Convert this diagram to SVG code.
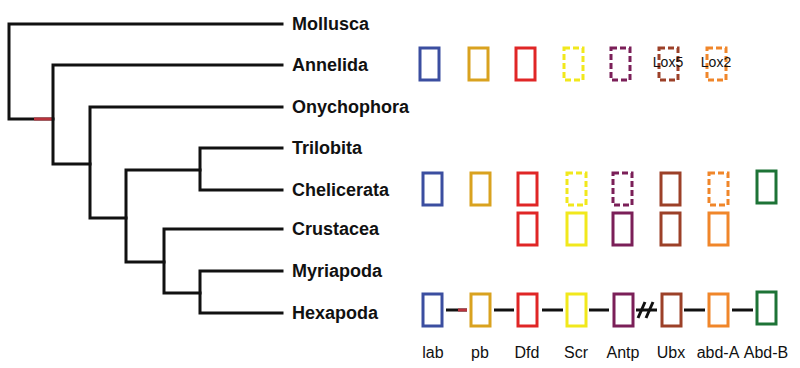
<svg xmlns="http://www.w3.org/2000/svg" width="800" height="368" viewBox="0 0 800 368">
<style>
.tree{fill:none;stroke:#111;stroke-width:3;stroke-linecap:square}
.taxon{font-family:"Liberation Sans",Arial,sans-serif;font-weight:bold;font-size:18px;fill:#111}
.gene{font-family:"Liberation Sans",Arial,sans-serif;font-size:16px;fill:#111;text-anchor:middle}
.lox{font-family:"Liberation Sans",Arial,sans-serif;font-size:14px;fill:#111;text-anchor:middle}
.box{fill:none;stroke-width:3}
.dash{stroke-dasharray:6 3}
.link{stroke:#111;stroke-width:3}
.lab{stroke:#3b4ea0}.pb{stroke:#d9a21f}.dfd{stroke:#e02626}.scr{stroke:#f1e81c}
.antp{stroke:#7b1f58}.ubx{stroke:#9c4028}.abda{stroke:#f0862a}.abdb{stroke:#1d7336}
</style>
<g id="connectors">
<path class="tree" d="M282,24 H9 V119 H53"/>
<path d="M34,119 H52" stroke="#b8323c" stroke-width="3"/>
<path class="tree" d="M282,65 H53 V164 H90"/>
<path class="tree" d="M282,107 H90 V218 H126"/>
<path class="tree" d="M282,148 H200 V190 H282"/>
<path class="tree" d="M200,170 H126 V262 H164"/>
<path class="tree" d="M282,229 H164 V293 H200"/>
<path class="tree" d="M282,271 H200 V313 H282"/>
<line class="link" x1="446" y1="310" x2="467" y2="310"/>
<line x1="458" y1="310" x2="467" y2="310" stroke="#b8323c" stroke-width="3"/>
<line class="link" x1="494" y1="310" x2="514" y2="310"/>
<line class="link" x1="542" y1="310" x2="563" y2="310"/>
<line class="link" x1="589" y1="310" x2="609" y2="310"/>
<line class="link" x1="636" y1="310" x2="657" y2="310"/>
<line class="link" x1="638" y1="318" x2="645" y2="302"/>
<line class="link" x1="646" y1="318" x2="653" y2="302"/>
<line class="link" x1="684" y1="310" x2="705" y2="310"/>
<line class="link" x1="732" y1="310" x2="753" y2="310"/>
</g>
<g id="taxa">
<text class="taxon" x="292" y="30">Mollusca</text>
<text class="taxon" x="292" y="71">Annelida</text>
<text class="taxon" x="292" y="113">Onychophora</text>
<text class="taxon" x="292" y="154">Trilobita</text>
<text class="taxon" x="292" y="196">Chelicerata</text>
<text class="taxon" x="292" y="235">Crustacea</text>
<text class="taxon" x="292" y="277">Myriapoda</text>
<text class="taxon" x="292" y="319">Hexapoda</text>
</g>
<g id="annelida-genes">
<rect class="box lab" x="420" y="48" width="19" height="32"/>
<rect class="box pb" x="469" y="48" width="19" height="32"/>
<rect class="box dfd" x="516" y="48" width="19" height="32"/>
<rect class="box scr dash" x="564" y="48" width="19" height="32"/>
<rect class="box antp dash" x="611" y="48" width="19" height="32"/>
<rect class="box ubx dash" x="659" y="48" width="19" height="32"/>
<rect class="box abda dash" x="707" y="48" width="19" height="32"/>
<text class="lox" x="668" y="67">Lox5</text>
<text class="lox" x="716" y="67">Lox2</text>
</g>
<g id="chelicerata-genes">
<rect class="box lab" x="423" y="173" width="19" height="32"/>
<rect class="box pb" x="471" y="173" width="19" height="32"/>
<rect class="box dfd" x="518" y="173" width="19" height="32"/>
<rect class="box scr dash" x="567" y="173" width="19" height="32"/>
<rect class="box antp dash" x="613" y="173" width="19" height="32"/>
<rect class="box ubx" x="661" y="173" width="19" height="32"/>
<rect class="box abda dash" x="709" y="173" width="19" height="32"/>
<rect class="box abdb" x="757" y="171" width="19" height="32"/>
</g>
<g id="crustacea-genes">
<rect class="box dfd" x="518" y="213" width="19" height="32"/>
<rect class="box scr" x="567" y="213" width="19" height="32"/>
<rect class="box antp" x="613" y="213" width="19" height="32"/>
<rect class="box ubx" x="661" y="213" width="19" height="32"/>
<rect class="box abda" x="709" y="213" width="19" height="32"/>
</g>
<g id="hexapoda-genes">
<rect class="box lab" x="423" y="294" width="19" height="32"/>
<rect class="box pb" x="471" y="294" width="19" height="32"/>
<rect class="box dfd" x="518" y="294" width="19" height="32"/>
<rect class="box scr" x="567" y="294" width="19" height="32"/>
<rect class="box antp" x="614" y="294" width="19" height="32"/>
<rect class="box ubx" x="662" y="294" width="19" height="32"/>
<rect class="box abda" x="709" y="294" width="19" height="32"/>
<rect class="box abdb" x="757" y="292" width="19" height="32"/>
</g>
<g id="gene-labels">
<text class="gene" x="433" y="358">lab</text>
<text class="gene" x="480" y="358">pb</text>
<text class="gene" x="527" y="358">Dfd</text>
<text class="gene" x="576" y="358">Scr</text>
<text class="gene" x="623" y="358">Antp</text>
<text class="gene" x="671" y="358">Ubx</text>
<text class="gene" x="718" y="358">abd-A</text>
<text class="gene" x="766" y="358">Abd-B</text>
</g>
</svg>
